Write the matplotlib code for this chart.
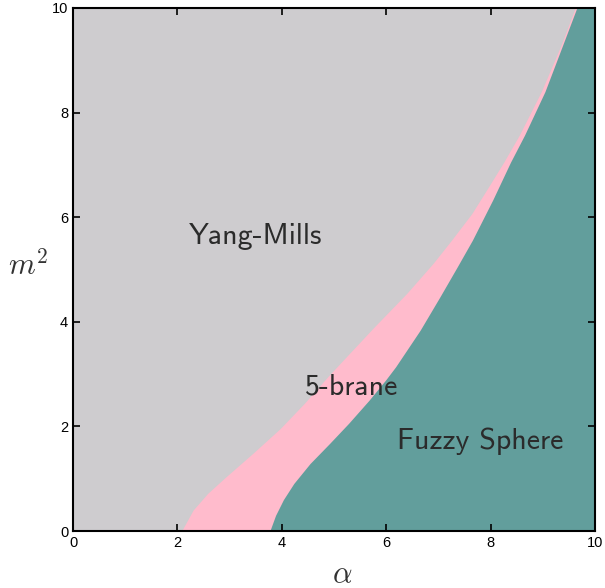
import os
import matplotlib
matplotlib.use('Agg')
import matplotlib.pyplot as plt
from matplotlib.font_manager import FontProperties

# phase boundaries: alpha as a function of m^2
m2_upper = [0.0, 0.4, 0.72, 1.01, 1.49, 1.96, 2.44, 2.95, 3.24, 3.88, 4.54,
            5.12, 5.56, 6.07, 6.58, 7.05, 7.57, 8.4, 9.29, 10.0]
alpha_upper = [2.08, 2.3, 2.58, 2.9, 3.45, 3.97, 4.43, 4.88, 5.15, 5.75, 6.39,
               6.9, 7.25, 7.64, 7.96, 8.25, 8.55, 8.97, 9.35, 9.62]

m2_lower = [0.0, 0.3, 0.6, 0.91, 1.29, 1.68, 2.06, 2.5, 2.89, 3.14, 3.84, 4.48,
            5.05, 5.56, 6.33, 7.05, 7.57, 8.4, 9.29, 10.0]
alpha_lower = [3.77, 3.88, 4.03, 4.23, 4.54, 4.92, 5.28, 5.67, 5.99, 6.18, 6.65, 7.03,
               7.36, 7.65, 8.04, 8.38, 8.65, 9.04, 9.38, 9.65]

phases = ['Yang-Mills', '5-brane', 'Fuzzy Sphere']
label_pos = [(3.49, 5.64), (5.34, 2.75), (7.8, 1.72)]

ticks = [0, 2, 4, 6, 8, 10]

plt.rcParams['mathtext.fontset'] = 'cm'
sans = FontProperties(fname=os.path.join(matplotlib.get_data_path(), 'fonts', 'ttf', 'cmss10.ttf'), size=21.5)

fig = plt.figure(figsize=(6.05, 5.88), dpi=100)
ax = fig.add_axes([0.1207, 0.0969, 0.8628, 0.8895])
ax.set_facecolor('#cecccf')

ax.fill_betweenx(m2_upper, alpha_upper, 10, color='#ffbbcc', lw=0)
ax.fill_betweenx(m2_lower, alpha_lower, 10, color='#629e9c', lw=0)

for name, (x, y) in zip(phases, label_pos):
    ax.text(x, y, name, fontproperties=sans, color='#2b2b2b', ha='center', va='center')

ax.set_xlim(0, 10)
ax.set_ylim(0, 10)
ax.set_xticks(ticks)
ax.set_yticks(ticks)
ax.tick_params(direction='in', top=True, right=True, length=5, width=1.2, labelsize=10.5)
for lab in ax.get_xticklabels() + ax.get_yticklabels():
    lab.set_family('Liberation Sans')
for s in ax.spines.values():
    s.set_linewidth(1.5)

ax.set_xlabel(r'$\alpha$', fontsize=22, color='#333333', va='center')
ax.set_ylabel(r'$m^2$', fontsize=22, rotation=0, color='#333333', ha='center', va='center')
ax.xaxis.set_label_coords(0.515, -0.084)
ax.yaxis.set_label_coords(-0.086, 0.509)

fig.savefig('out.png', dpi=100)
